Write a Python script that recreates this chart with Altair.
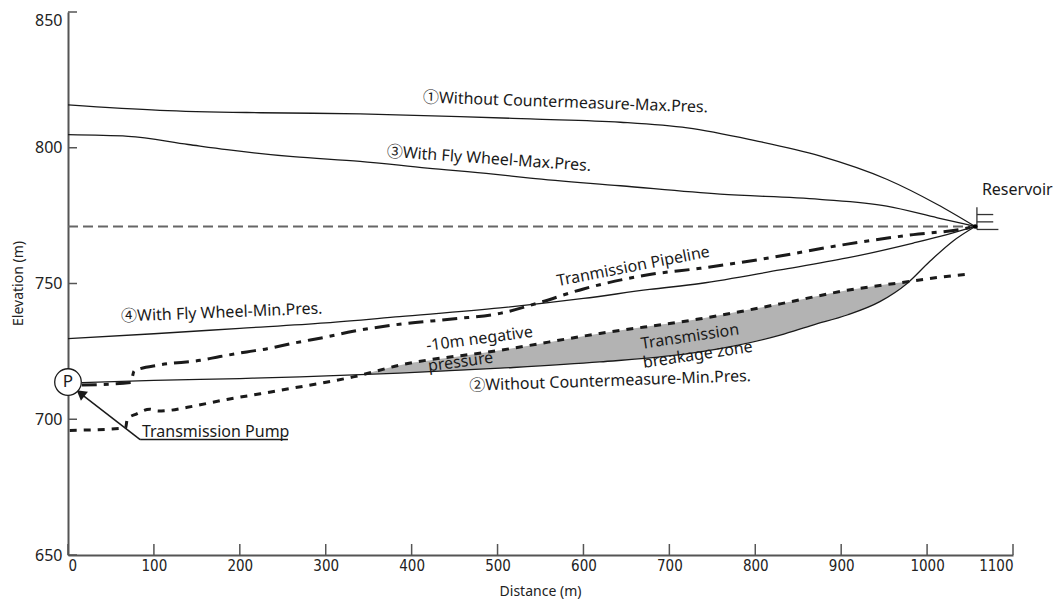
import altair as alt
import pandas as pd

# ---------------- data ----------------
# (1) Without countermeasure - max pressure
max_without_d = [0, 107, 224, 340, 456, 538, 643, 721, 797, 875, 953, 1012, 1056]
max_without_v = [815.8, 813.8, 812.9, 812.5, 811.5, 810.6, 809.4, 807.3, 802.8, 797.0, 788.4, 779.1, 771.0]

# (3) With fly wheel - max pressure
max_fly_d = [0, 70, 140, 185, 262, 340, 418, 495, 538, 643, 759, 875, 953, 1012, 1056]
max_fly_v = [804.8, 804.2, 801.2, 799.3, 796.7, 795.0, 792.5, 790.3, 788.8, 786.0, 782.9, 781.0, 778.5, 774.2, 771.0]

# (4) With fly wheel - min pressure
min_fly_d = [0, 100, 200, 300, 386, 503, 600, 677, 736, 829, 907, 984, 1023, 1056]
min_fly_v = [729.7, 731.5, 733.5, 735.5, 737.8, 741.0, 744.5, 747.8, 750.0, 755.0, 759.4, 764.9, 768.0, 771.0]

# (2) Without countermeasure - min pressure
min_without_d = [16, 100, 200, 270, 340, 386, 503, 619, 736, 829, 867, 907, 945, 977, 1003, 1030, 1056]
min_without_v = [713.5, 714.3, 715.0, 715.6, 716.4, 717.0, 718.8, 721.1, 724.8, 731.0, 734.7, 738.4, 743.3, 750.1, 758.1, 765.6, 771.0]

# Transmission pipeline profile (dash-dot)
pipe_d = [16, 73, 77, 107, 154, 177, 208, 232, 262, 302, 332, 386, 450, 503, 545, 600, 677, 736, 806, 907, 984, 1038, 1056]
pipe_v = [712.6, 713.5, 717.8, 720.0, 721.7, 723.1, 724.8, 726.0, 728.0, 730.4, 732.4, 735.0, 737.0, 739.0, 742.6, 748.0, 753.3, 755.6, 758.9, 764.5, 768.0, 769.9, 771.0]

# -10 m negative pressure line (dotted)
neg_d = [2, 60, 67, 69, 80, 95, 105, 119, 139, 185, 224, 262, 302, 332, 386, 503, 619, 736, 829, 907, 969, 1012, 1050]
neg_v = [695.9, 696.6, 696.8, 700.1, 702.0, 703.7, 703.0, 703.3, 704.4, 707.3, 709.4, 711.5, 713.7, 715.6, 719.9, 725.4, 731.6, 737.0, 742.5, 747.5, 750.3, 752.2, 753.5]

# breakage zone (between the -10 m line and curve 2)
zone_d = [345, 386, 450, 503, 560, 619, 680, 736, 790, 829, 867, 907, 945, 978]
zone_top = [716.6, 719.9, 722.9, 725.4, 728.4, 731.6, 734.4, 737.0, 740.2, 742.5, 745.0, 747.5, 749.4, 750.6]
zone_bottom = [716.6, 717.0, 717.9, 718.8, 719.9, 721.1, 722.8, 724.8, 728.2, 731.0, 734.7, 738.4, 743.3, 750.6]

# reservoir water level (dashed reference line)
level_d = [0, 1056]
level_v = 771.0

# reservoir symbol segments
res_x1 = [1058, 1058, 1058, 1058]
res_x2 = [1058, 1077, 1077, 1083]
res_y1 = [778.1, 775.4, 772.7, 769.9]
res_y2 = [769.9, 775.4, 772.7, 769.9]

# pump
pump_d, pump_v = 0, 713.7
junction_d, junction_v = 1056, 771.0

# pump callout: leader line + underline
lead_x1 = [84, 84]
lead_x2 = [14, 256]
lead_y1 = [692.5, 692.5]
lead_y2 = [709.6, 692.5]
arrow_d, arrow_v = 14.6, 709.6

# curve labels
lab_text = ["①Without Countermeasure-Max.Pres.", "③With Fly Wheel-Max.Pres.",
            "Tranmission Pipeline", "④With Fly Wheel-Min.Pres.",
            "-10m negative", "pressure", "Transmission", "breakage zone",
            "②Without Countermeasure-Min.Pres.", "Reservoir"]
lab_d = [579, 490, 658, 179, 479, 457, 724, 733, 631, 1105]
lab_v = [816.7, 795.9, 756.3, 739.3, 729.6, 721.1, 730.4, 723.7, 714.1, 784.3]
lab_angle = [2, 4, 349, 357.7, 352.4, 352.4, 351.5, 351.5, 358, 0]

pump_label = "Transmission Pump"
pump_label_d, pump_label_v = 86, 695.2

x_ticks = [0, 100, 200, 300, 400, 500, 600, 700, 800, 900, 1000, 1100]
y_ticks = [650, 700, 750, 800, 850]

# ---------------- chart ----------------
W, H = 945, 543
FONT = "Noto Sans, Noto Sans CJK JP"
INK = "#1a1a1a"

xs = alt.Scale(domain=[0, 1100], nice=False, zero=False)
ys = alt.Scale(domain=[650, 850], nice=False, zero=False)

X = alt.X("d:Q", scale=xs, axis=alt.Axis(
    values=x_ticks, format="d", title="Distance (m)", ticks=False, grid=False,
    labelFont="Liberation Sans Narrow, DejaVu Sans Condensed, Noto Sans",
    labelFontSize=15, labelColor="#222", labelPadding=3,
    domainColor="#555", domainWidth=2,
    titleFont=FONT, titleFontSize=14, titleFontWeight="normal", titleColor="#222",
    titleX=472, titleY=36, titleBaseline="middle"))
Y = alt.Y("v:Q", scale=ys, axis=alt.Axis(
    values=y_ticks, format="d", title="Elevation (m)", ticks=False, grid=False,
    labelFont=FONT, labelFontSize=16, labelColor="#222", labelPadding=6,
    labelBaseline={"expr": "datum.value == 850 ? 'top' : 'middle'"},
    domainColor="#555", domainWidth=2,
    titleFont=FONT, titleFontSize=14, titleFontWeight="normal", titleColor="#222",
    titleX=-50, titleY=271, titleAngle=270, titleAlign="center", titleBaseline="middle"))


def series(d, v, width=1.3, dash=None, color=INK):
    kw = dict(strokeWidth=width, color=color, interpolate="monotone", strokeCap="butt")
    if dash:
        kw["strokeDash"] = dash
    return alt.Chart(pd.DataFrame({"d": d, "v": v})).mark_line(**kw).encode(x=X, y=Y)


zone = alt.Chart(pd.DataFrame({"d": zone_d, "v": zone_top, "v2": zone_bottom})).mark_area(
    color="#b3b3b3", interpolate="monotone").encode(x=X, y=Y, y2="v2:Q")

level = alt.Chart(pd.DataFrame({"d": [level_d[0]], "d2": [level_d[1]], "v": [level_v]})).mark_rule(
    color="#666", strokeWidth=1.8, strokeDash=[10, 5]).encode(x=X, x2="d2:Q", y=Y)

res_sym = alt.Chart(pd.DataFrame({"d": res_x1, "d2": res_x2, "v": res_y1, "v2": res_y2})).mark_rule(
    color="#333", strokeWidth=1.3).encode(x=X, x2="d2:Q", y=Y, y2="v2:Q")

lead = alt.Chart(pd.DataFrame({"d": lead_x1, "d2": lead_x2, "v": lead_y1, "v2": lead_y2})).mark_rule(
    color=INK, strokeWidth=1.5).encode(x=X, x2="d2:Q", y=Y, y2="v2:Q")

arrow = alt.Chart(pd.DataFrame({"d": [arrow_d], "v": [arrow_v]})).mark_point(
    shape="triangle-up", angle=308, size=130, filled=True, color=INK, opacity=1).encode(x=X, y=Y)

pump = alt.Chart(pd.DataFrame({"d": [pump_d], "v": [pump_v]})).mark_point(
    shape="circle", size=707, filled=True, fill="white", stroke=INK, strokeWidth=1.3, opacity=1).encode(x=X, y=Y)
pump_p = alt.Chart(pd.DataFrame({"d": [pump_d], "v": [pump_v], "t": ["P"]})).mark_text(
    font=FONT, fontSize=17, color=INK, align="center", baseline="middle").encode(x=X, y=Y, text="t:N")

junction = alt.Chart(pd.DataFrame({"d": [junction_d], "v": [junction_v]})).mark_point(
    shape="circle", size=22, filled=True, color="#000", opacity=1).encode(x=X, y=Y)

y_tick_rules = alt.Chart(pd.DataFrame({"v": y_ticks})).mark_rule(color="#555", strokeWidth=1.5).encode(
    y=Y, x=alt.value(0), x2=alt.value(9))
x_tick_rules = alt.Chart(pd.DataFrame({"d": x_ticks})).mark_rule(color="#555", strokeWidth=1.5).encode(
    x=X, y=alt.value(H), y2=alt.value(H - 11))

labels = alt.Chart(pd.DataFrame({"d": lab_d, "v": lab_v, "t": lab_text, "a": lab_angle})).mark_text(
    font=FONT, fontSize=16, color=INK, align="center", baseline="middle").encode(
    x=X, y=Y, text="t:N", angle=alt.Angle("a:Q", scale=None))

pump_lab = alt.Chart(pd.DataFrame({"d": [pump_label_d], "v": [pump_label_v], "t": [pump_label]})).mark_text(
    font=FONT, fontSize=16, color=INK, align="left", baseline="middle").encode(x=X, y=Y, text="t:N")

chart = alt.layer(
    zone, level,
    series(max_without_d, max_without_v),
    series(max_fly_d, max_fly_v),
    series(min_fly_d, min_fly_v),
    series(min_without_d, min_without_v),
    series(pipe_d, pipe_v, width=3, dash=[15, 7, 5, 7]),
    series(neg_d, neg_v, width=3, dash=[7, 7]),
    res_sym, lead, arrow, pump, pump_p, junction,
    y_tick_rules, x_tick_rules, labels, pump_lab,
).properties(
    width=W, height=H,
    autosize="none",
    padding={"left": 60, "top": 4, "right": 41, "bottom": 44},
    background="white",
).configure_view(stroke=None)

chart.save("out.html", embed_options={"renderer": "svg", "actions": False})
